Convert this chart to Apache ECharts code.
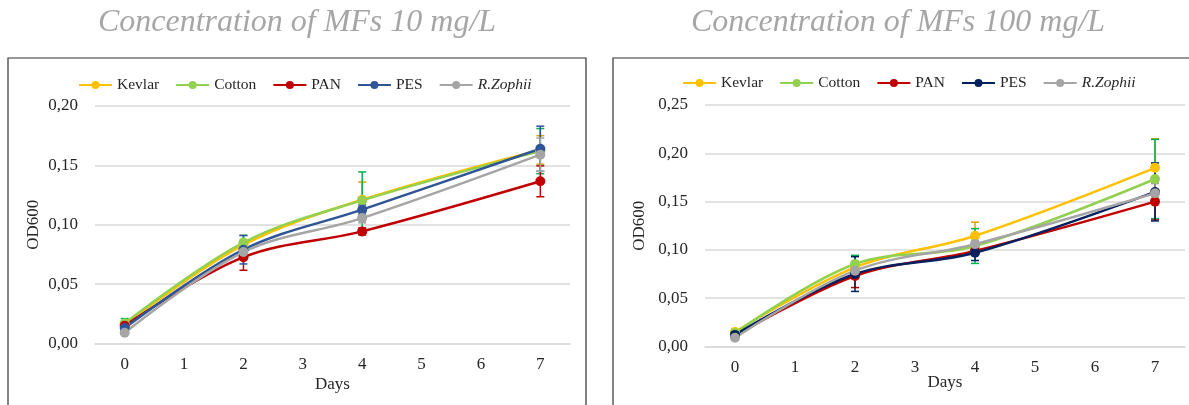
<!DOCTYPE html>
<html>
<head>
<meta charset="utf-8">
<script src="https://cdn.jsdelivr.net/npm/echarts@6/dist/echarts.min.js"></script>
<style>
  html, body { margin: 0; padding: 0; background: #fff; }
  #wrap { position: relative; width: 1189px; height: 405px; overflow: hidden; }
  .panel { position: absolute; top: 0; height: 405px; }
  #c10 { left: 0; width: 600px; }
  #c100 { left: 600px; width: 589px; }
</style>
</head>
<body>
<div id="wrap">
  <div class="panel" id="c10"></div>
  <div class="panel" id="c100"></div>
</div>
<script>
// x axis categories (days) and the days actually measured
const days = ['0', '1', '2', '3', '4', '5', '6', '7']
const sampleDays = [0, 2, 4, 7]
const names = ['Kevlar', 'Cotton', 'PAN', 'PES', 'R.Zophii']

// 10 mg/L
const kevlar10 = [0.016, 0.083, 0.121, 0.163]
const cotton10 = [0.017, 0.085, 0.1205, 0.162]
const pan10 = [0.015, 0.0727, 0.0944, 0.1366]
const pes10 = [0.013, 0.079, 0.1127, 0.164]
const zophii10 = [0.009, 0.077, 0.1056, 0.159]
const kevlar10Err = [0.002, 0.004, 0.015, 0.012]
const cotton10Err = [0.004, 0.006, 0.024, 0.019]
const pan10Err = [0.002, 0.011, 0.003, 0.013]
const pes10Err = [0.002, 0.012, 0.004, 0.019]
const zophii10Err = [0.001, 0.004, 0.004, 0.014]

// 100 mg/L
const kevlar100 = [0.015, 0.082, 0.1147, 0.185]
const cotton100 = [0.014, 0.0854, 0.104, 0.1734]
const pan100 = [0.011, 0.073, 0.099, 0.150]
const pes100 = [0.012, 0.075, 0.097, 0.160]
const zophii100 = [0.009, 0.0785, 0.106, 0.1586]
const kevlar100Err = [0.003, 0.006, 0.014, 0.030]
const cotton100Err = [0.003, 0.009, 0.018, 0.041]
const pan100Err = [0.002, 0.012, 0.003, 0.019]
const pes100Err = [0.002, 0.018, 0.008, 0.030]
const zophii100Err = [0.001, 0.005, 0.004, 0.010]

const FONT = '"Liberation Serif", "DejaVu Serif", serif'
const TEXT = '#262626'

const fmt = v => v.toFixed(2).replace('.', ',')

function errorBars(color) {
  return function (params, api) {
    const x = api.value(0)
    const y = api.value(1)
    const e = api.value(2)
    const top = api.coord([x, y + e])
    const bot = api.coord([x, y - e])
    const cap = 4
    const style = { stroke: color, lineWidth: 1.5 }
    return {
      type: 'group',
      children: [
        { type: 'line', shape: { x1: top[0], y1: top[1], x2: bot[0], y2: bot[1] }, style },
        { type: 'line', shape: { x1: top[0] - cap, y1: top[1], x2: top[0] + cap, y2: top[1] }, style },
        { type: 'line', shape: { x1: bot[0] - cap, y1: bot[1], x2: bot[0] + cap, y2: bot[1] }, style },
      ],
    }
  }
}

function buildOption(cfg) {
  const series = []
  cfg.errors.forEach((errs, i) => {
    series.push({
      type: 'custom',
      renderItem: errorBars(cfg.errColors[i]),
      data: sampleDays.map((d, k) => [d, cfg.values[i][k], errs[k]]),
      encode: { x: 0, y: 1 },
      silent: true,
      z: 2,
    })
  })
  cfg.values.forEach((vals, i) => {
    series.push({
      name: names[i],
      type: 'line',
      smooth: 0.35,
      symbol: 'circle',
      symbolSize: 10,
      showSymbol: true,
      lineStyle: { width: 2.5, color: cfg.colors[i] },
      itemStyle: { color: cfg.colors[i] },
      data: sampleDays.map((d, k) => [d, vals[k]]),
      z: 3,
    })
  })

  return {
    animation: false,
    backgroundColor: '#fff',
    graphic: [
      {
        type: 'rect',
        shape: cfg.frame,
        style: { fill: 'none', stroke: '#333333', lineWidth: 1.2 },
        silent: true,
      },
      {
        type: 'text',
        x: cfg.titleX,
        y: 23,
        style: {
          text: cfg.title,
          font: 'italic 32px ' + FONT,
          fill: '#a6a6a6',
          textAlign: 'center',
          textVerticalAlign: 'middle',
        },
      },
    ],
    legend: {
      data: names,
      left: cfg.legendLeft,
      top: cfg.legendTop,
      padding: 0,
      itemWidth: 33,
      itemHeight: 10,
      itemGap: 16,
      textStyle: {
        fontFamily: FONT,
        fontSize: 15.5,
        color: TEXT,
        rich: { i: { fontFamily: FONT, fontSize: 15.5, fontStyle: 'italic', color: TEXT } },
      },
      formatter: n => (n === 'R.Zophii' ? '{i|R.Zophii}' : n),
    },
    grid: cfg.grid,
    xAxis: {
      type: 'category',
      data: days,
      boundaryGap: true,
      name: 'Days',
      nameLocation: 'middle',
      nameGap: cfg.daysGap,
      nameMoveOverlap: false,
      nameTextStyle: { fontFamily: FONT, fontSize: 17, color: TEXT },
      axisLine: { show: true, lineStyle: { color: '#d9d9d9', width: 1.5 } },
      axisTick: { show: false },
      axisLabel: { fontFamily: FONT, fontSize: 17, color: TEXT, margin: 13 },
    },
    yAxis: {
      type: 'value',
      min: 0,
      max: cfg.yMax,
      interval: 0.05,
      name: 'OD600',
      nameLocation: 'middle',
      nameGap: cfg.odGap,
      nameMoveOverlap: false,
      nameTextStyle: { fontFamily: FONT, fontSize: 17, color: TEXT },
      axisLine: { show: false },
      axisTick: { show: false },
      axisLabel: { fontFamily: FONT, fontSize: 17, color: TEXT, margin: 17, formatter: fmt },
      splitLine: { lineStyle: { color: '#d9d9d9', width: 1.5 } },
    },
    series,
  }
}

const opt10 = buildOption({
  title: 'Concentration of MFs 10 mg/L',
  titleX: 297,
  frame: { x: 8, y: 58, width: 578, height: 380 },
  legendLeft: 78,
  legendTop: 77,
  grid: { left: 95, right: 30, top: 106, bottom: 61.5 },
  daysGap: 33,
  odGap: 53,
  yMax: 0.2,
  values: [kevlar10, cotton10, pan10, pes10, zophii10],
  errors: [kevlar10Err, cotton10Err, pan10Err, pes10Err, zophii10Err],
  colors: ['#ffc000', '#92d050', '#c00000', '#2f5597', '#a5a5a5'],
  errColors: ['#d9a400', '#00b050', '#c00000', '#2f5597', '#a5a5a5'],
})

const opt100 = buildOption({
  title: 'Concentration of MFs 100 mg/L',
  titleX: 298,
  frame: { x: 13, y: 58, width: 600, height: 380 },
  legendLeft: 82,
  legendTop: 75,
  grid: { left: 105, right: 4, top: 105, bottom: 58.5 },
  daysGap: 28,
  odGap: 57,
  yMax: 0.25,
  values: [kevlar100, cotton100, pan100, pes100, zophii100],
  errors: [kevlar100Err, cotton100Err, pan100Err, pes100Err, zophii100Err],
  colors: ['#ffc000', '#92d050', '#c00000', '#002060', '#a5a5a5'],
  errColors: ['#d9a400', '#00b050', '#c00000', '#002060', '#a5a5a5'],
})

const chart10 = echarts.init(document.getElementById('c10'))
chart10.setOption(opt10)
const chart100 = echarts.init(document.getElementById('c100'))
chart100.setOption(opt100)

window.addEventListener('resize', () => {
  chart10.resize()
  chart100.resize()
})
</script>
</body>
</html>
